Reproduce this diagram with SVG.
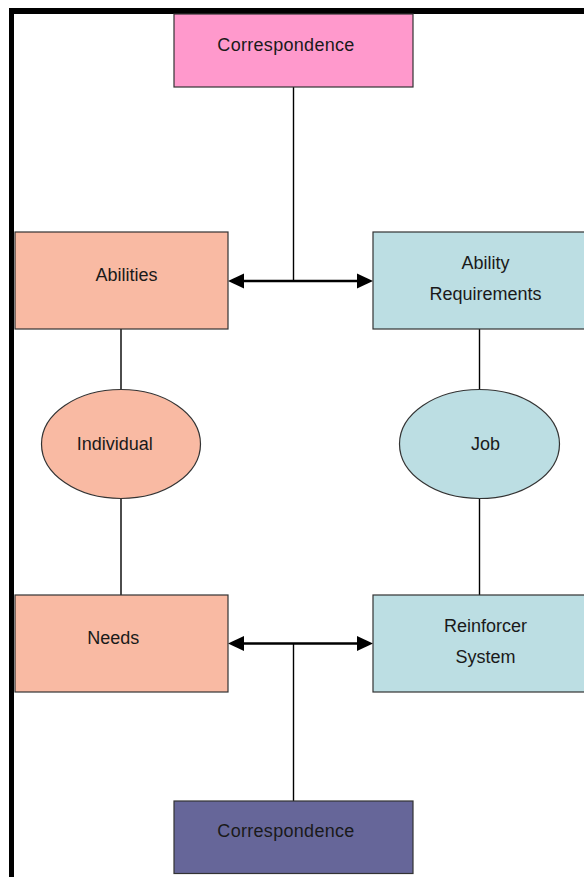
<svg xmlns="http://www.w3.org/2000/svg" width="584" height="877" viewBox="0 0 584 877">
  <style>
    .box { stroke: #333333; stroke-width: 1.2; }
    .person { fill: #F9BAA3; }
    .job { fill: #BCDEE3; }
    .lbl { font-family: "Liberation Sans", Arial, sans-serif; font-size: 18px; fill: #1a1a1a; text-anchor: middle; }
    .link { stroke: #000000; stroke-width: 1.4; fill: none; }
    .bi { stroke: #000000; stroke-width: 2.6; fill: none; }
    .head { fill: #000000; }
  </style>

  <rect width="584" height="877" fill="#ffffff"/>

  <!-- frame -->
  <rect x="9" y="8" width="575" height="6" fill="#000000"/>
  <rect x="9" y="8" width="5" height="869" fill="#000000"/>

  <g id="connectors">
    <line class="link" x1="293.5" y1="87" x2="293.5" y2="281"/>
    <line class="bi" x1="242" y1="281" x2="359" y2="281"/>
    <polygon class="head" points="228,281 244,273.5 244,288.5"/>
    <polygon class="head" points="373,281 357,273.5 357,288.5"/>

    <line class="link" x1="121" y1="329" x2="121" y2="389.5"/>
    <line class="link" x1="121" y1="498.5" x2="121" y2="595"/>
    <line class="link" x1="479.5" y1="329" x2="479.5" y2="389.5"/>
    <line class="link" x1="479.5" y1="498.5" x2="479.5" y2="595"/>

    <line class="bi" x1="242" y1="643.5" x2="359" y2="643.5"/>
    <polygon class="head" points="228,643.5 244,636 244,651"/>
    <polygon class="head" points="373,643.5 357,636 357,651"/>
    <line class="link" x1="293.5" y1="643.5" x2="293.5" y2="801"/>
  </g>

  <g id="correspondence-top">
    <rect class="box" x="174" y="14" width="239" height="73" fill="#FF99CC"/>
    <text class="lbl" x="286" y="50.5" letter-spacing="0.3">Correspondence</text>
  </g>

  <g id="abilities">
    <rect class="box person" x="15" y="232" width="213" height="97"/>
    <text class="lbl" x="126.5" y="281">Abilities</text>
  </g>

  <g id="ability-requirements">
    <rect class="box job" x="373" y="232" width="222" height="97"/>
    <text class="lbl" x="485.5" y="269">Ability</text>
    <text class="lbl" x="485.5" y="300">Requirements</text>
  </g>

  <g id="individual">
    <ellipse class="box person" cx="121" cy="444" rx="79.5" ry="54.5"/>
    <text class="lbl" x="114.7" y="450">Individual</text>
  </g>

  <g id="job">
    <ellipse class="box job" cx="479.5" cy="444" rx="80" ry="54.5"/>
    <text class="lbl" x="485.5" y="450">Job</text>
  </g>

  <g id="needs">
    <rect class="box person" x="15" y="595" width="213" height="97"/>
    <text class="lbl" x="113.3" y="643.5">Needs</text>
  </g>

  <g id="reinforcer-system">
    <rect class="box job" x="373" y="595" width="222" height="97"/>
    <text class="lbl" x="485.5" y="632">Reinforcer</text>
    <text class="lbl" x="485.5" y="663">System</text>
  </g>

  <g id="correspondence-bottom">
    <rect class="box" x="174" y="801" width="239" height="72.5" fill="#666699"/>
    <text class="lbl" x="286" y="837" letter-spacing="0.3">Correspondence</text>
  </g>
</svg>
